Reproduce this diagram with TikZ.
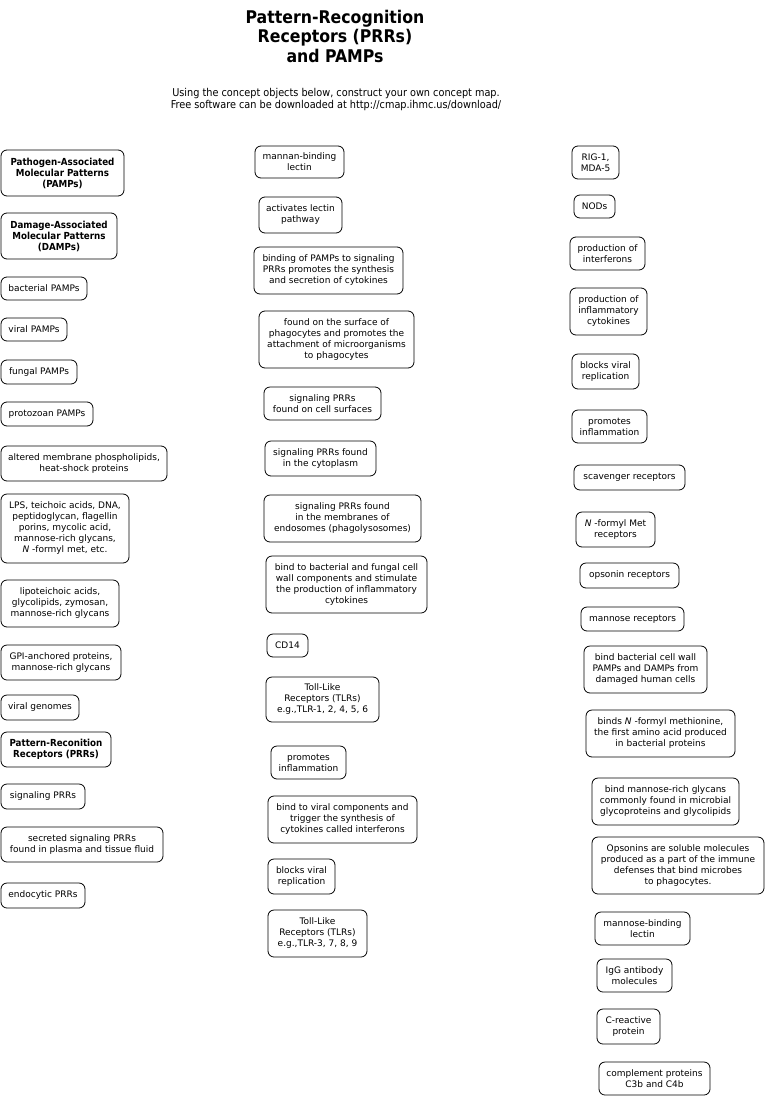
\documentclass[tikz,border=0pt]{standalone}
\usepackage{fontspec}
\setmainfont{DejaVu Sans}
\newfontfamily\condfont{DejaVu Sans Condensed}
\newfontfamily\condbold{DejaVu Sans Condensed Bold}
\newcommand{\cbox}[7][]{\node[cmbox,#1,minimum width={#5-#3},minimum height={#6-#4}] (#2) at ({(#3+#5)/2},{(#4+#6)/2}) {#7};}
\tikzset{
  cmbox/.style={draw=black, line width=0.8pt, rounded corners=6pt, align=center, inner sep=0pt,
    font=\fontsize{9}{11}\selectfont},
  boldbox/.style={font=\condbold\fontsize{9.7}{11}\selectfont},
  titletext/.style={align=center, inner sep=0pt, font=\condbold\fontsize{17.5}{19.5}\selectfont},
  subtext/.style={align=center, inner sep=0pt, font=\condfont\fontsize{10.8}{12}\selectfont}
}
\begin{document}
\begin{tikzpicture}[x=1pt,y=-1pt]
\useasboundingbox (0,0) rectangle (766,1098);
\node[titletext] (title) at (335,36) {Pattern-Recognition\\Receptors (PRRs)\\and PAMPs};
\node[subtext] (sub) at (336,100) {Using the concept objects below, construct your own concept map.\\Free software can be downloaded at http://cmap.ihmc.us/download/};
% left column
\cbox[boldbox]{pamps}{1}{150}{124}{196}{Pathogen-Associated\\Molecular Patterns\\(PAMPs)}
\cbox[boldbox]{damps}{1}{213}{117}{259}{Damage-Associated\\Molecular Patterns\\(DAMPs)}
\cbox{bact}{1}{277}{87}{300}{bacterial PAMPs}
\cbox{viral}{1}{318}{67}{341}{viral PAMPs}
\cbox{fungal}{1}{360}{77}{384}{fungal PAMPs}
\cbox{proto}{1}{402}{93}{426}{protozoan PAMPs}
\cbox{altered}{1}{446}{167}{481}{altered membrane phospholipids,\\heat-shock proteins}
\cbox{lps}{1}{494}{129}{563}{LPS, teichoic acids, DNA,\\peptidoglycan, flagellin\\porins, mycolic acid,\\mannose-rich glycans,\\\textit{N} -formyl met, etc.}
\cbox{lipo}{1}{580}{119}{627}{lipoteichoic acids,\\glycolipids, zymosan,\\mannose-rich glycans}
\cbox{gpi}{1}{645}{121}{680}{GPI-anchored proteins,\\mannose-rich glycans}
\cbox{genomes}{1}{695}{79}{720}{viral genomes}
\cbox[boldbox]{prrs}{1}{732}{111}{767}{Pattern-Reconition\\Receptors (PRRs)}
\cbox{sigprr}{1}{784}{85}{809}{signaling PRRs}
\cbox{secreted}{1}{827}{163}{862}{secreted signaling PRRs\\found in plasma and tissue fluid}
\cbox{endo}{1}{883}{85}{908}{endocytic PRRs}
% middle column
\cbox{mbl}{255}{146}{344}{178}{mannan-binding\\lectin}
\cbox{actlectin}{259}{197}{342}{233}{activates lectin\\pathway}
\cbox{binding}{254}{247}{403}{294}{binding of PAMPs to signaling\\PRRs promotes the synthesis\\and secretion of cytokines}
\cbox{surface}{259}{311}{414}{368}{found on the surface of\\phagocytes and promotes the\\attachment of microorganisms\\to phagocytes}
\cbox{cellsurf}{264}{387}{381}{420}{signaling PRRs\\found on cell surfaces}
\cbox{cyto}{265}{441}{376}{476}{signaling PRRs found\\in the cytoplasm}
\cbox{endosomes}{264}{495}{421}{542}{signaling PRRs found\\in the membranes of\\endosomes (phagolysosomes)}
\cbox{bindbact}{266}{556}{427}{613}{bind to bacterial and fungal cell\\wall components and stimulate\\the production of inflammatory\\cytokines}
\cbox{cd}{267}{634}{308}{657}{CD14}
\cbox{tlra}{266}{677}{379}{722}{Toll-Like\\Receptors (TLRs)\\e.g.,TLR-1, 2, 4, 5, 6}
\cbox{promA}{271}{746}{346}{779}{promotes\\inflammation}
\cbox{bindviral}{268}{796}{417}{843}{bind to viral components and\\trigger the synthesis of\\cytokines called interferons}
\cbox{blockA}{268}{859}{335}{894}{blocks viral\\replication}
\cbox{tlrb}{268}{910}{367}{957}{Toll-Like\\Receptors (TLRs)\\e.g.,TLR-3, 7, 8, 9}
% right column
\cbox{rig}{572}{146}{619}{179}{RIG-1,\\MDA-5}
\cbox{nods}{574}{195}{615}{218}{NODs}
\cbox{prodifn}{570}{237}{645}{270}{production of\\interferons}
\cbox{prodcyt}{570}{288}{647}{335}{production of\\inflammatory\\cytokines}
\cbox{blockB}{572}{354}{639}{389}{blocks viral\\replication}
\cbox{promB}{572}{410}{647}{443}{promotes\\inflammation}
\cbox{scav}{574}{465}{685}{490}{scavenger receptors}
\cbox{nfmet}{576}{512}{655}{547}{\textit{N} -formyl Met\\receptors}
\cbox{opsrec}{580}{563}{679}{588}{opsonin receptors}
\cbox{manrec}{581}{607}{684}{631}{mannose receptors}
\cbox{bindwall}{584}{646}{707}{693}{bind bacterial cell wall\\PAMPs and DAMPs from\\damaged human cells}
\cbox{bindsN}{586}{710}{735}{757}{binds \textit{N} -formyl methionine,\\the first amino acid produced\\in bacterial proteins}
\cbox{bindman}{592}{778}{739}{825}{bind mannose-rich glycans\\commonly found in microbial\\glycoproteins and glycolipids}
\cbox{opsonins}{592}{837}{764}{894}{Opsonins are soluble molecules\\produced as a part of the immune\\defenses that bind microbes\\to phagocytes.}
\cbox{mblB}{595}{912}{690}{945}{mannose-binding\\lectin}
\cbox{igg}{597}{959}{672}{992}{IgG antibody\\molecules}
\cbox{crp}{597}{1009}{660}{1044}{C-reactive\\protein}
\cbox{comp}{599}{1062}{710}{1095}{complement proteins\\C3b and C4b}
\end{tikzpicture}
\end{document}
